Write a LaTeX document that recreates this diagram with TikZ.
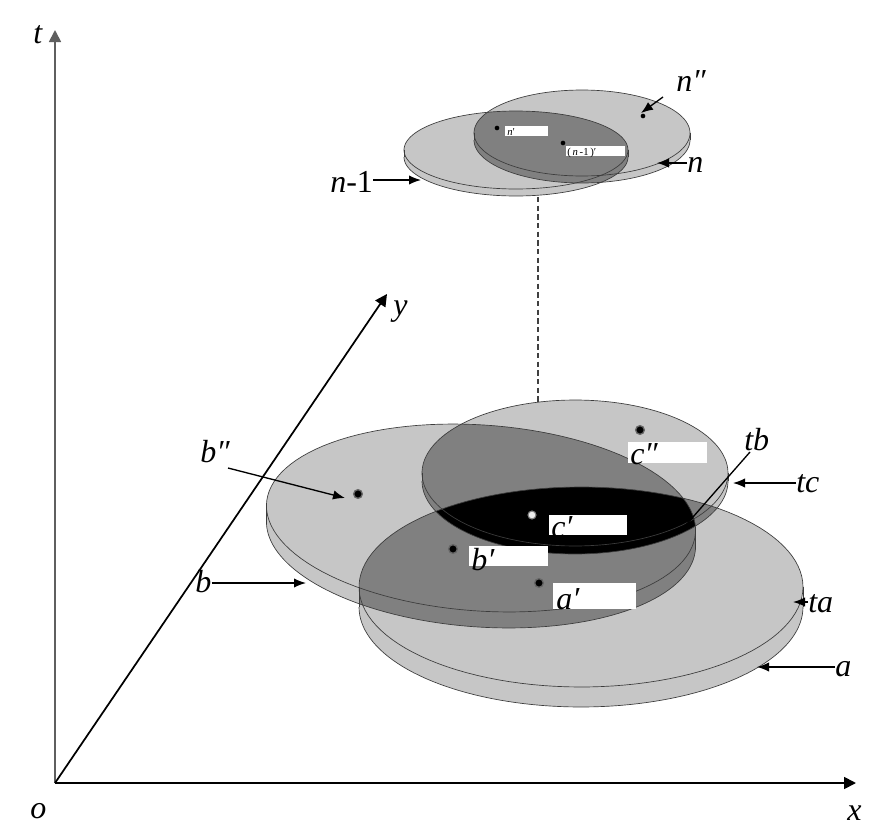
\documentclass[tikz,border=0pt]{standalone}
\usepackage{fontspec}
\setmainfont{Liberation Serif}
\usetikzlibrary{arrows.meta}
\definecolor{discL}{RGB}{198,198,198}
\definecolor{discD}{RGB}{128,128,128}
\definecolor{edgec}{RGB}{60,60,60}
\definecolor{axgray}{RGB}{95,95,95}
% ellipse path: cx, cy, rx, ry, rotation (pixel coordinates, y downwards)
\newcommand{\elp}[5]{plot[domain=0:360,samples=120] ({#1+#3*cos(\x)*cos(#5)-#4*sin(\x)*sin(#5)},{#2+#3*cos(\x)*sin(#5)+#4*sin(\x)*cos(#5)}) -- cycle}
\newcommand{\elh}[5]{plot[domain=0:180,samples=80] ({#1+#3*cos(\x)*cos(#5)-#4*sin(\x)*sin(#5)},{#2+#3*cos(\x)*sin(#5)+#4*sin(\x)*cos(#5)})}
\newcommand{\fpA}{\elp{581}{587}{222}{100}{0} \elp{581}{607}{222}{100}{0}}
\newcommand{\fpB}{\elp{481}{518}{215}{93}{4} \elp{481}{534}{215}{93}{4}}
\newcommand{\fpC}{\elp{575}{473}{153}{73}{0} \elp{575}{481}{153}{73}{0}}
\newcommand{\fpM}{\elp{516}{150}{112}{39}{0} \elp{516}{157}{112}{39}{0}}
\newcommand{\fpN}{\elp{582}{133}{108}{43}{0} \elp{582}{140}{108}{43}{0}}
\begin{document}
\begin{tikzpicture}[x=0.75pt,y=-0.75pt,
  outl/.style={draw=edgec, line width=0.5pt},
  lab/.style={font=\fontsize{24}{28}\selectfont\itshape, inner sep=0pt, anchor=base west},
  smalllab/.style={font=\fontsize{8}{9}\selectfont, inner sep=0pt, anchor=base west},
  axisline/.style={line width=1.3pt, -{Triangle[length=9pt,width=9pt]}},
  ptr/.style={line width=1pt, -{Latex[length=9pt,width=7pt]}},
  wbox/.style={fill=white, inner sep=0pt, anchor=north west},
  dotb/.style={circle, fill=black, draw=black!60, line width=1pt, inner sep=0pt, minimum size=6.5pt},
  dotw/.style={circle, fill=white!85!gray, draw=gray, line width=0.8pt, inner sep=0pt, minimum size=6pt},
  dots/.style={circle, fill=black, inner sep=0pt, minimum size=3.5pt}]
\useasboundingbox (0,0) rectangle (883,839);
\fill[white] (0,0) rectangle (883,839);

% ---------- axes ----------
\coordinate (O) at (55,783);
\coordinate (T) at (55,30);
\coordinate (X) at (856,783);
\coordinate (Y) at (387,294);
\draw[axisline, draw=axgray] (O) -- (T);
\draw[axisline] (O) -- (X);
\draw[axisline] (O) -- (Y);
\node[lab] (lt) at (33,43) {t};
\node[lab] (lo) at (30,818) {o};
\node[lab] (lx) at (847,820) {x};
\node[lab] (ly) at (393,315) {y};

% ---------- lower discs ----------
\fill[discL] \fpA;
\fill[discL] \fpB;
\fill[discL] \fpC;
\begin{scope}
  \clip \fpA;
  \fill[discD] \fpB;
  \fill[discD] \fpC;
\end{scope}
\begin{scope}
  \clip \fpB;
  \fill[discD] \fpC;
\end{scope}
\begin{scope}
  \clip \fpA;
  \clip \fpB;
  \fill[black] \fpC;
\end{scope}
% outlines
\draw[outl] \elp{581}{587}{222}{100}{0};
\draw[outl] \elh{581}{607}{222}{100}{0};
\draw[outl] (359,587) -- (359,607) (803,587) -- (803,607);
\draw[outl] \elp{481}{518}{215}{93}{4};
\draw[outl] \elh{481}{534}{215}{93}{4};
\draw[outl] (266.5,503) -- (266.5,519) (695.5,533) -- (695.5,549);
\draw[outl] \elp{575}{473}{153}{73}{0};
\draw[outl] \elh{575}{481}{153}{73}{0};
\draw[outl] (422,473) -- (422,481) (728,473) -- (728,481);

% ---------- upper discs ----------
\fill[discL] \fpM;
\fill[discL] \fpN;
\begin{scope}
  \clip \fpM;
  \fill[discD] \fpN;
\end{scope}
\draw[outl] \elp{516}{150}{112}{39}{0};
\draw[outl] \elh{516}{157}{112}{39}{0};
\draw[outl] (404,150) -- (404,157) (628,150) -- (628,157);
\draw[outl] \elp{582}{133}{108}{43}{0};
\draw[outl] \elh{582}{140}{108}{43}{0};
\draw[outl] (474,133) -- (474,140) (690,133) -- (690,140);

% dashed link
\coordinate (d1) at (538,197);
\coordinate (d2) at (538,402);
\draw[black!75, line width=1.3pt, dash pattern=on 4pt off 2.5pt] (d1) -- (d2);

% ---------- points ----------
\node[dotb] (pbb) at (358,494) {};
\node[dotb] (pb) at (453,549) {};
\node[dotb] (pa) at (539,583) {};
\node[dotw] (pc) at (532,515) {};
\node[dotb] (pcc) at (640,430) {};
\node[dots] (pnn) at (643,116) {};
\node[dots] (pn) at (497,128) {};
\node[dots] (pm) at (563,143) {};

% ---------- white label boxes ----------
\node[wbox, minimum width=59.25pt, minimum height=15pt] (bxb) at (469,546) {};
\node[lab] (tb1) at (471,570) {b′};
\node[wbox, minimum width=58.5pt, minimum height=15pt] (bxc) at (549,515) {};
\node[lab] (tc1) at (551,537) {c′};
\node[wbox, minimum width=59.25pt, minimum height=15.75pt] (bxcc) at (628,442) {};
\node[lab] (tc2) at (630,464) {c″};
\node[wbox, minimum width=62.25pt, minimum height=19.5pt] (bxa) at (553,583) {};
\node[lab] (ta1) at (556,609) {a′};
\node[wbox, minimum width=32.25pt, minimum height=7.5pt] (bxn) at (505,126) {};
\node[smalllab] (tn1) at (507,135) {\textit{n}′};
\node[wbox, minimum width=44.25pt, minimum height=7pt] (bxm) at (566,146) {};
\node[smalllab] (tm1) at (567,155) {(\,\textit{n}\,-1\,)′};

% ---------- labels with pointers ----------
\node[lab] (lbb) at (200,462) {b″};
\coordinate (sbb) at (228,468);
\coordinate (ebb) at (345,498);
\draw[ptr] (sbb) -- (ebb);

\node[lab] (lb) at (195,592) {b};
\coordinate (eb) at (306,583);
\draw[ptr] (lb.east |- eb) -- (eb);

\node[lab] (ltb) at (744,450) {tb};
\coordinate (stb) at (750,452);
\coordinate (etb) at (686,525);
\draw[line width=1pt] (stb) -- (etb);

\node[lab] (ltc) at (796,492) {tc};
\coordinate (etc) at (733,483);
\draw[ptr] (ltc.west |- etc) -- (etc);

\node[lab] (lta) at (808,612) {ta};
\coordinate (eta) at (793,602);
\draw[ptr] (lta.west |- eta) -- (eta);

\node[lab] (la) at (835,676) {a};
\coordinate (ea) at (757,667);
\draw[ptr] (la.west |- ea) -- (ea);

\node[lab] (lnn) at (676,91) {n″};
\coordinate (snn) at (663,97);
\coordinate (enn) at (641,113);
\draw[ptr] (snn) -- (enn);

\node[lab] (ln) at (687,172) {n};
\coordinate (en) at (657,163);
\draw[ptr] (ln.west |- en) -- (en);

\node[lab] (lm) at (330,192) {n\upshape -1};
\coordinate (em) at (421,180);
\draw[ptr] (lm.east |- em) -- (em);
\end{tikzpicture}
\end{document}
